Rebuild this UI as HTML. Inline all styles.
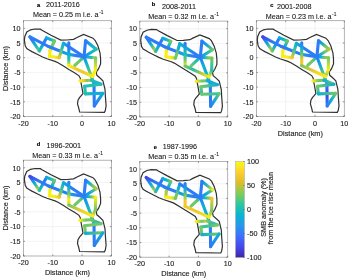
<!DOCTYPE html>
<html><head><meta charset="utf-8"><style>
html,body{margin:0;padding:0;background:#fff;}
svg{display:block;filter:blur(0.3px);}
.g{stroke:#ebebeb;stroke-width:0.6;}
.bx{fill:none;stroke:#9a9a9a;stroke-width:0.75;}
.tk{stroke:#555;stroke-width:0.6;}
.tl{font-family:"Liberation Sans",sans-serif;font-size:7.2px;fill:#262626;stroke:#262626;stroke-width:0.15px;}
.tt{font-family:"Liberation Sans",sans-serif;font-size:7.2px;fill:#111;stroke:#111;stroke-width:0.08px;}
.sup{font-size:4.8px;}
.bl{font-family:"Liberation Sans",sans-serif;font-size:5.7px;font-weight:bold;fill:#000;stroke:#000;stroke-width:0.2px;}
.al{font-family:"Liberation Sans",sans-serif;font-size:7.3px;fill:#262626;stroke:#262626;stroke-width:0.15px;}
.ol{fill:none;stroke:#303030;stroke-width:1.2;stroke-linejoin:miter;}
.tr line{stroke-width:3.1;stroke-linecap:round;}
.cbx{stroke:#aaa;stroke-width:0.5;}
</style></head>
<body><svg width="350" height="279" viewBox="0 0 350 279">
<g transform="translate(0.0,0.0)">
<line x1="52.80" y1="20.7" x2="52.80" y2="116.5" class="g"/>
<line x1="82.10" y1="20.7" x2="82.10" y2="116.5" class="g"/>
<line x1="23.5" y1="28.30" x2="111.4" y2="28.30" class="g"/>
<line x1="23.5" y1="43.00" x2="111.4" y2="43.00" class="g"/>
<line x1="23.5" y1="57.70" x2="111.4" y2="57.70" class="g"/>
<line x1="23.5" y1="72.40" x2="111.4" y2="72.40" class="g"/>
<line x1="23.5" y1="87.10" x2="111.4" y2="87.10" class="g"/>
<line x1="23.5" y1="101.80" x2="111.4" y2="101.80" class="g"/>
<rect x="23.5" y="20.7" width="87.90" height="95.80" class="bx"/>
<line x1="23.50" y1="116.5" x2="23.50" y2="115.0" class="tk"/>
<line x1="23.50" y1="20.7" x2="23.50" y2="22.2" class="tk"/>
<line x1="52.80" y1="116.5" x2="52.80" y2="115.0" class="tk"/>
<line x1="52.80" y1="20.7" x2="52.80" y2="22.2" class="tk"/>
<line x1="82.10" y1="116.5" x2="82.10" y2="115.0" class="tk"/>
<line x1="82.10" y1="20.7" x2="82.10" y2="22.2" class="tk"/>
<line x1="111.40" y1="116.5" x2="111.40" y2="115.0" class="tk"/>
<line x1="111.40" y1="20.7" x2="111.40" y2="22.2" class="tk"/>
<line x1="23.5" y1="28.30" x2="25.0" y2="28.30" class="tk"/>
<line x1="111.4" y1="28.30" x2="109.9" y2="28.30" class="tk"/>
<line x1="23.5" y1="43.00" x2="25.0" y2="43.00" class="tk"/>
<line x1="111.4" y1="43.00" x2="109.9" y2="43.00" class="tk"/>
<line x1="23.5" y1="57.70" x2="25.0" y2="57.70" class="tk"/>
<line x1="111.4" y1="57.70" x2="109.9" y2="57.70" class="tk"/>
<line x1="23.5" y1="72.40" x2="25.0" y2="72.40" class="tk"/>
<line x1="111.4" y1="72.40" x2="109.9" y2="72.40" class="tk"/>
<line x1="23.5" y1="87.10" x2="25.0" y2="87.10" class="tk"/>
<line x1="111.4" y1="87.10" x2="109.9" y2="87.10" class="tk"/>
<line x1="23.5" y1="101.80" x2="25.0" y2="101.80" class="tk"/>
<line x1="111.4" y1="101.80" x2="109.9" y2="101.80" class="tk"/>
<line x1="23.5" y1="116.50" x2="25.0" y2="116.50" class="tk"/>
<line x1="111.4" y1="116.50" x2="109.9" y2="116.50" class="tk"/>
<text x="20.60" y="31.00" class="tl" text-anchor="end">10</text>
<text x="20.60" y="45.70" class="tl" text-anchor="end">5</text>
<text x="20.60" y="60.40" class="tl" text-anchor="end">0</text>
<text x="20.60" y="75.10" class="tl" text-anchor="end">-5</text>
<text x="20.60" y="89.80" class="tl" text-anchor="end">-10</text>
<text x="20.60" y="104.50" class="tl" text-anchor="end">-15</text>
<text x="20.60" y="119.20" class="tl" text-anchor="end">-20</text>
<text x="23.50" y="125.80" class="tl" text-anchor="middle">-20</text>
<text x="52.80" y="125.80" class="tl" text-anchor="middle">-10</text>
<text x="82.10" y="125.80" class="tl" text-anchor="middle">0</text>
<text x="111.40" y="125.80" class="tl" text-anchor="middle">10</text>
</g>
<polygon transform="translate(0.0,0.0)" points="24.4,40.0 24.8,36.5 26.8,31.9 30.6,29.8 34.9,29.0 40.3,29.2 42.0,30.3 51.0,35.2 60.8,40.1 67.0,40.0 73.6,39.3 76.5,37.7 83.6,34.5 93.0,38.2 95.2,40.5 97.9,45.8 100.0,52.8 100.6,58.7 100.6,64.0 98.5,68.9 96.2,72.2 96.9,75.3 99.5,77.5 102.9,80.7 105.0,89.3 105.4,96.5 106.1,105.8 105.3,110.5 104.4,112.3 79.6,112.0 78.7,107.8 77.5,104.0 78.0,100.1 79.5,97.6 83.0,93.6 82.0,88.0 80.5,80.0 80.3,78.3 79.0,75.8 74.1,72.6 68.8,69.4 63.5,66.0 58.0,62.7 55.0,61.4 47.0,58.8 42.6,57.0 37.2,54.3 31.9,51.6 29.5,50.2 26.8,48.6 25.2,45.9" class="ol"/>
<defs>
<linearGradient id="ga0" gradientUnits="userSpaceOnUse" x1="84.0" y1="56.8" x2="74.8" y2="65.4">
<stop offset="0.00" stop-color="#0eaed6"/>
<stop offset="0.50" stop-color="#72c865"/>
<stop offset="1.00" stop-color="#72c865"/>
</linearGradient>
<linearGradient id="ga1" gradientUnits="userSpaceOnUse" x1="84.0" y1="56.8" x2="94.0" y2="83.5">
<stop offset="0.00" stop-color="#2c7bf7"/>
<stop offset="0.20" stop-color="#0eaed6"/>
<stop offset="0.40" stop-color="#24c0af"/>
<stop offset="0.60" stop-color="#72c865"/>
<stop offset="0.80" stop-color="#24c0af"/>
<stop offset="1.00" stop-color="#0eaed6"/>
</linearGradient>
<linearGradient id="ga2" gradientUnits="userSpaceOnUse" x1="96.2" y1="49.2" x2="84.0" y2="56.8">
<stop offset="0.00" stop-color="#24c0af"/>
<stop offset="0.50" stop-color="#0eaed6"/>
<stop offset="1.00" stop-color="#2c7bf7"/>
</linearGradient>
<linearGradient id="ga3" gradientUnits="userSpaceOnUse" x1="84.0" y1="56.8" x2="95.6" y2="57.7">
<stop offset="0.00" stop-color="#2c7bf7"/>
<stop offset="0.33" stop-color="#0eaed6"/>
<stop offset="0.67" stop-color="#24c0af"/>
<stop offset="1.00" stop-color="#faef12"/>
</linearGradient>
<linearGradient id="ga4" gradientUnits="userSpaceOnUse" x1="29.9" y1="36.8" x2="39.3" y2="51.0">
<stop offset="0.00" stop-color="#2c7bf7"/>
<stop offset="0.25" stop-color="#2c7bf7"/>
<stop offset="0.50" stop-color="#0eaed6"/>
<stop offset="0.75" stop-color="#24c0af"/>
<stop offset="1.00" stop-color="#b4c840"/>
</linearGradient>
<linearGradient id="ga5" gradientUnits="userSpaceOnUse" x1="39.3" y1="51.0" x2="46.5" y2="37.9">
<stop offset="0.00" stop-color="#24c0af"/>
<stop offset="0.33" stop-color="#0eaed6"/>
<stop offset="0.67" stop-color="#2c7bf7"/>
<stop offset="1.00" stop-color="#2c7bf7"/>
</linearGradient>
<linearGradient id="ga6" gradientUnits="userSpaceOnUse" x1="46.5" y1="37.9" x2="54.5" y2="41.0">
<stop offset="0.00" stop-color="#0eaed6"/>
<stop offset="0.33" stop-color="#0eaed6"/>
<stop offset="0.67" stop-color="#24c0af"/>
<stop offset="1.00" stop-color="#72c865"/>
</linearGradient>
<linearGradient id="ga7" gradientUnits="userSpaceOnUse" x1="54.5" y1="41.0" x2="50.0" y2="50.6">
<stop offset="0.00" stop-color="#72c865"/>
<stop offset="0.50" stop-color="#72c865"/>
<stop offset="1.00" stop-color="#f1c92d"/>
</linearGradient>
<linearGradient id="ga8" gradientUnits="userSpaceOnUse" x1="29.9" y1="36.8" x2="48.5" y2="46.5">
<stop offset="0.00" stop-color="#2c7bf7"/>
<stop offset="0.50" stop-color="#2c7bf7"/>
<stop offset="1.00" stop-color="#2c7bf7"/>
</linearGradient>
<linearGradient id="ga9" gradientUnits="userSpaceOnUse" x1="48.5" y1="46.5" x2="68.5" y2="54.4">
<stop offset="0.00" stop-color="#2c7bf7"/>
<stop offset="0.50" stop-color="#2c7bf7"/>
<stop offset="1.00" stop-color="#0eaed6"/>
</linearGradient>
<linearGradient id="ga10" gradientUnits="userSpaceOnUse" x1="68.5" y1="54.4" x2="84.0" y2="56.8">
<stop offset="0.00" stop-color="#0eaed6"/>
<stop offset="0.50" stop-color="#2c7bf7"/>
<stop offset="1.00" stop-color="#2c7bf7"/>
</linearGradient>
<linearGradient id="ga11" gradientUnits="userSpaceOnUse" x1="50.0" y1="50.6" x2="49.6" y2="56.3">
<stop offset="0.00" stop-color="#faef12"/>
<stop offset="1.00" stop-color="#faef12"/>
</linearGradient>
<linearGradient id="ga12" gradientUnits="userSpaceOnUse" x1="49.6" y1="56.3" x2="59.2" y2="57.7">
<stop offset="0.00" stop-color="#faef12"/>
<stop offset="0.50" stop-color="#faef12"/>
<stop offset="1.00" stop-color="#f1c92d"/>
</linearGradient>
<linearGradient id="ga13" gradientUnits="userSpaceOnUse" x1="59.2" y1="57.7" x2="63.5" y2="43.3">
<stop offset="0.00" stop-color="#f1c92d"/>
<stop offset="0.33" stop-color="#72c865"/>
<stop offset="0.67" stop-color="#24c0af"/>
<stop offset="1.00" stop-color="#0eaed6"/>
</linearGradient>
<linearGradient id="ga14" gradientUnits="userSpaceOnUse" x1="63.5" y1="43.3" x2="84.0" y2="56.8">
<stop offset="0.00" stop-color="#0eaed6"/>
<stop offset="0.33" stop-color="#2c7bf7"/>
<stop offset="0.67" stop-color="#2c7bf7"/>
<stop offset="1.00" stop-color="#2c7bf7"/>
</linearGradient>
<linearGradient id="ga15" gradientUnits="userSpaceOnUse" x1="68.8" y1="42.8" x2="68.8" y2="65.6">
<stop offset="0.00" stop-color="#2c7bf7"/>
<stop offset="0.25" stop-color="#2c7bf7"/>
<stop offset="0.50" stop-color="#0eaed6"/>
<stop offset="0.75" stop-color="#24c0af"/>
<stop offset="1.00" stop-color="#faef12"/>
</linearGradient>
<linearGradient id="ga16" gradientUnits="userSpaceOnUse" x1="85.6" y1="40.7" x2="96.2" y2="49.2">
<stop offset="0.00" stop-color="#2c7bf7"/>
<stop offset="0.50" stop-color="#0eaed6"/>
<stop offset="1.00" stop-color="#24c0af"/>
</linearGradient>
<linearGradient id="ga17" gradientUnits="userSpaceOnUse" x1="84.0" y1="56.8" x2="85.6" y2="40.7">
<stop offset="0.00" stop-color="#2c7bf7"/>
<stop offset="0.50" stop-color="#2c7bf7"/>
<stop offset="1.00" stop-color="#2c7bf7"/>
</linearGradient>
<linearGradient id="ga18" gradientUnits="userSpaceOnUse" x1="95.6" y1="57.7" x2="95.4" y2="70.0">
<stop offset="0.00" stop-color="#72c865"/>
<stop offset="1.00" stop-color="#faef12"/>
</linearGradient>
<linearGradient id="ga19" gradientUnits="userSpaceOnUse" x1="95.4" y1="70.0" x2="92.7" y2="76.5">
<stop offset="0.00" stop-color="#faef12"/>
<stop offset="1.00" stop-color="#faef12"/>
</linearGradient>
<linearGradient id="ga20" gradientUnits="userSpaceOnUse" x1="68.8" y1="65.6" x2="92.7" y2="76.5">
<stop offset="0.00" stop-color="#faef12"/>
<stop offset="0.33" stop-color="#f1c92d"/>
<stop offset="0.67" stop-color="#f1c92d"/>
<stop offset="1.00" stop-color="#faef12"/>
</linearGradient>
<linearGradient id="ga21" gradientUnits="userSpaceOnUse" x1="94.0" y1="83.5" x2="94.3" y2="105.9">
<stop offset="0.00" stop-color="#2c7bf7"/>
<stop offset="0.50" stop-color="#2c7bf7"/>
<stop offset="1.00" stop-color="#2c7bf7"/>
</linearGradient>
<linearGradient id="ga22" gradientUnits="userSpaceOnUse" x1="79.9" y1="80.9" x2="91.0" y2="80.3">
<stop offset="0.00" stop-color="#faef12"/>
<stop offset="0.33" stop-color="#f1c92d"/>
<stop offset="0.67" stop-color="#72c865"/>
<stop offset="1.00" stop-color="#f1c92d"/>
</linearGradient>
<linearGradient id="ga23" gradientUnits="userSpaceOnUse" x1="91.0" y1="80.3" x2="101.0" y2="84.2">
<stop offset="0.00" stop-color="#24c0af"/>
<stop offset="1.00" stop-color="#0eaed6"/>
</linearGradient>
<linearGradient id="ga24" gradientUnits="userSpaceOnUse" x1="101.0" y1="84.2" x2="84.6" y2="86.3">
<stop offset="0.00" stop-color="#24c0af"/>
<stop offset="1.00" stop-color="#24c0af"/>
</linearGradient>
<linearGradient id="ga25" gradientUnits="userSpaceOnUse" x1="84.6" y1="86.3" x2="85.5" y2="93.9">
<stop offset="0.00" stop-color="#24c0af"/>
<stop offset="1.00" stop-color="#24c0af"/>
</linearGradient>
<linearGradient id="ga26" gradientUnits="userSpaceOnUse" x1="85.5" y1="93.9" x2="102.8" y2="93.3">
<stop offset="0.00" stop-color="#24c0af"/>
<stop offset="0.50" stop-color="#0eaed6"/>
<stop offset="1.00" stop-color="#0eaed6"/>
</linearGradient>
<linearGradient id="ga27" gradientUnits="userSpaceOnUse" x1="102.8" y1="93.3" x2="94.3" y2="105.9">
<stop offset="0.00" stop-color="#0eaed6"/>
<stop offset="1.00" stop-color="#2c7bf7"/>
</linearGradient>
</defs>
<g transform="translate(0.0,0.0)" class="tr">
<line x1="84.0" y1="56.8" x2="74.8" y2="65.4" stroke="url(#ga0)"/>
<line x1="84.0" y1="56.8" x2="94.0" y2="83.5" stroke="url(#ga1)"/>
<line x1="96.2" y1="49.2" x2="84.0" y2="56.8" stroke="url(#ga2)"/>
<line x1="84.0" y1="56.8" x2="95.6" y2="57.7" stroke="url(#ga3)"/>
<line x1="29.9" y1="36.8" x2="39.3" y2="51.0" stroke="url(#ga4)"/>
<line x1="39.3" y1="51.0" x2="46.5" y2="37.9" stroke="url(#ga5)"/>
<line x1="46.5" y1="37.9" x2="54.5" y2="41.0" stroke="url(#ga6)"/>
<line x1="54.5" y1="41.0" x2="50.0" y2="50.6" stroke="url(#ga7)"/>
<line x1="29.9" y1="36.8" x2="48.5" y2="46.5" stroke="url(#ga8)"/>
<line x1="48.5" y1="46.5" x2="68.5" y2="54.4" stroke="url(#ga9)"/>
<line x1="68.5" y1="54.4" x2="84.0" y2="56.8" stroke="url(#ga10)"/>
<line x1="50.0" y1="50.6" x2="49.6" y2="56.3" stroke="url(#ga11)"/>
<line x1="49.6" y1="56.3" x2="59.2" y2="57.7" stroke="url(#ga12)"/>
<line x1="59.2" y1="57.7" x2="63.5" y2="43.3" stroke="url(#ga13)"/>
<line x1="63.5" y1="43.3" x2="84.0" y2="56.8" stroke="url(#ga14)"/>
<line x1="68.8" y1="42.8" x2="68.8" y2="65.6" stroke="url(#ga15)"/>
<line x1="85.6" y1="40.7" x2="96.2" y2="49.2" stroke="url(#ga16)"/>
<line x1="84.0" y1="56.8" x2="85.6" y2="40.7" stroke="url(#ga17)"/>
<line x1="95.6" y1="57.7" x2="95.4" y2="70.0" stroke="url(#ga18)"/>
<line x1="95.4" y1="70.0" x2="92.7" y2="76.5" stroke="url(#ga19)"/>
<line x1="68.8" y1="65.6" x2="92.7" y2="76.5" stroke="url(#ga20)"/>
<line x1="94.0" y1="83.5" x2="94.3" y2="105.9" stroke="url(#ga21)"/>
<line x1="79.9" y1="80.9" x2="91.0" y2="80.3" stroke="url(#ga22)"/>
<line x1="91.0" y1="80.3" x2="101.0" y2="84.2" stroke="url(#ga23)"/>
<line x1="101.0" y1="84.2" x2="84.6" y2="86.3" stroke="url(#ga24)"/>
<line x1="84.6" y1="86.3" x2="85.5" y2="93.9" stroke="url(#ga25)"/>
<line x1="85.5" y1="93.9" x2="102.8" y2="93.3" stroke="url(#ga26)"/>
<line x1="102.8" y1="93.3" x2="94.3" y2="105.9" stroke="url(#ga27)"/>
</g>
<text x="37.0" y="6.7" class="bl">a</text>
<text x="46.0" y="6.6" class="tt">2011-2016</text>
<text x="32.9" y="17.1" class="tt">Mean = 0.25 m i.e. a<tspan class="sup" dx="0.5" dy="-3.2">-1</tspan></text>
<text transform="translate(7.6,68.60) rotate(-90)" class="al" text-anchor="middle">Distance (km)</text>
<g transform="translate(116.3,0.4)">
<line x1="52.80" y1="20.7" x2="52.80" y2="116.5" class="g"/>
<line x1="82.10" y1="20.7" x2="82.10" y2="116.5" class="g"/>
<line x1="23.5" y1="28.30" x2="111.4" y2="28.30" class="g"/>
<line x1="23.5" y1="43.00" x2="111.4" y2="43.00" class="g"/>
<line x1="23.5" y1="57.70" x2="111.4" y2="57.70" class="g"/>
<line x1="23.5" y1="72.40" x2="111.4" y2="72.40" class="g"/>
<line x1="23.5" y1="87.10" x2="111.4" y2="87.10" class="g"/>
<line x1="23.5" y1="101.80" x2="111.4" y2="101.80" class="g"/>
<rect x="23.5" y="20.7" width="87.90" height="95.80" class="bx"/>
<line x1="23.50" y1="116.5" x2="23.50" y2="115.0" class="tk"/>
<line x1="23.50" y1="20.7" x2="23.50" y2="22.2" class="tk"/>
<line x1="52.80" y1="116.5" x2="52.80" y2="115.0" class="tk"/>
<line x1="52.80" y1="20.7" x2="52.80" y2="22.2" class="tk"/>
<line x1="82.10" y1="116.5" x2="82.10" y2="115.0" class="tk"/>
<line x1="82.10" y1="20.7" x2="82.10" y2="22.2" class="tk"/>
<line x1="111.40" y1="116.5" x2="111.40" y2="115.0" class="tk"/>
<line x1="111.40" y1="20.7" x2="111.40" y2="22.2" class="tk"/>
<line x1="23.5" y1="28.30" x2="25.0" y2="28.30" class="tk"/>
<line x1="111.4" y1="28.30" x2="109.9" y2="28.30" class="tk"/>
<line x1="23.5" y1="43.00" x2="25.0" y2="43.00" class="tk"/>
<line x1="111.4" y1="43.00" x2="109.9" y2="43.00" class="tk"/>
<line x1="23.5" y1="57.70" x2="25.0" y2="57.70" class="tk"/>
<line x1="111.4" y1="57.70" x2="109.9" y2="57.70" class="tk"/>
<line x1="23.5" y1="72.40" x2="25.0" y2="72.40" class="tk"/>
<line x1="111.4" y1="72.40" x2="109.9" y2="72.40" class="tk"/>
<line x1="23.5" y1="87.10" x2="25.0" y2="87.10" class="tk"/>
<line x1="111.4" y1="87.10" x2="109.9" y2="87.10" class="tk"/>
<line x1="23.5" y1="101.80" x2="25.0" y2="101.80" class="tk"/>
<line x1="111.4" y1="101.80" x2="109.9" y2="101.80" class="tk"/>
<line x1="23.5" y1="116.50" x2="25.0" y2="116.50" class="tk"/>
<line x1="111.4" y1="116.50" x2="109.9" y2="116.50" class="tk"/>
<text x="20.60" y="31.00" class="tl" text-anchor="end">10</text>
<text x="20.60" y="45.70" class="tl" text-anchor="end">5</text>
<text x="20.60" y="60.40" class="tl" text-anchor="end">0</text>
<text x="20.60" y="75.10" class="tl" text-anchor="end">-5</text>
<text x="20.60" y="89.80" class="tl" text-anchor="end">-10</text>
<text x="20.60" y="104.50" class="tl" text-anchor="end">-15</text>
<text x="20.60" y="119.20" class="tl" text-anchor="end">-20</text>
<text x="23.50" y="125.80" class="tl" text-anchor="middle">-20</text>
<text x="52.80" y="125.80" class="tl" text-anchor="middle">-10</text>
<text x="82.10" y="125.80" class="tl" text-anchor="middle">0</text>
<text x="111.40" y="125.80" class="tl" text-anchor="middle">10</text>
</g>
<polygon transform="translate(116.3,0.4)" points="24.4,40.0 24.8,36.5 26.8,31.9 30.6,29.8 34.9,29.0 40.3,29.2 42.0,30.3 51.0,35.2 60.8,40.1 67.0,40.0 73.6,39.3 76.5,37.7 83.6,34.5 93.0,38.2 95.2,40.5 97.9,45.8 100.0,52.8 100.6,58.7 100.6,64.0 98.5,68.9 96.2,72.2 96.9,75.3 99.5,77.5 102.9,80.7 105.0,89.3 105.4,96.5 106.1,105.8 105.3,110.5 104.4,112.3 79.6,112.0 78.7,107.8 77.5,104.0 78.0,100.1 79.5,97.6 83.0,93.6 82.0,88.0 80.5,80.0 80.3,78.3 79.0,75.8 74.1,72.6 68.8,69.4 63.5,66.0 58.0,62.7 55.0,61.4 47.0,58.8 42.6,57.0 37.2,54.3 31.9,51.6 29.5,50.2 26.8,48.6 25.2,45.9" class="ol"/>
<defs>
<linearGradient id="gb0" gradientUnits="userSpaceOnUse" x1="84.0" y1="56.8" x2="74.8" y2="65.4">
<stop offset="0.00" stop-color="#0eaed6"/>
<stop offset="0.50" stop-color="#24c0af"/>
<stop offset="1.00" stop-color="#72c865"/>
</linearGradient>
<linearGradient id="gb1" gradientUnits="userSpaceOnUse" x1="84.0" y1="56.8" x2="94.0" y2="83.5">
<stop offset="0.00" stop-color="#2c7bf7"/>
<stop offset="0.33" stop-color="#0eaed6"/>
<stop offset="0.67" stop-color="#0eaed6"/>
<stop offset="1.00" stop-color="#0eaed6"/>
</linearGradient>
<linearGradient id="gb2" gradientUnits="userSpaceOnUse" x1="96.2" y1="49.2" x2="84.0" y2="56.8">
<stop offset="0.00" stop-color="#72c865"/>
<stop offset="0.33" stop-color="#24c0af"/>
<stop offset="0.67" stop-color="#0eaed6"/>
<stop offset="1.00" stop-color="#2c7bf7"/>
</linearGradient>
<linearGradient id="gb3" gradientUnits="userSpaceOnUse" x1="84.0" y1="56.8" x2="95.6" y2="57.7">
<stop offset="0.00" stop-color="#2c7bf7"/>
<stop offset="0.33" stop-color="#0eaed6"/>
<stop offset="0.67" stop-color="#72c865"/>
<stop offset="1.00" stop-color="#b4c840"/>
</linearGradient>
<linearGradient id="gb4" gradientUnits="userSpaceOnUse" x1="29.9" y1="36.8" x2="39.3" y2="51.0">
<stop offset="0.00" stop-color="#2c7bf7"/>
<stop offset="0.25" stop-color="#2c7bf7"/>
<stop offset="0.50" stop-color="#0eaed6"/>
<stop offset="0.75" stop-color="#72c865"/>
<stop offset="1.00" stop-color="#f1c92d"/>
</linearGradient>
<linearGradient id="gb5" gradientUnits="userSpaceOnUse" x1="39.3" y1="51.0" x2="46.5" y2="37.9">
<stop offset="0.00" stop-color="#24c0af"/>
<stop offset="0.33" stop-color="#0eaed6"/>
<stop offset="0.67" stop-color="#2c7bf7"/>
<stop offset="1.00" stop-color="#2c7bf7"/>
</linearGradient>
<linearGradient id="gb6" gradientUnits="userSpaceOnUse" x1="46.5" y1="37.9" x2="54.5" y2="41.0">
<stop offset="0.00" stop-color="#0eaed6"/>
<stop offset="0.33" stop-color="#0eaed6"/>
<stop offset="0.67" stop-color="#24c0af"/>
<stop offset="1.00" stop-color="#72c865"/>
</linearGradient>
<linearGradient id="gb7" gradientUnits="userSpaceOnUse" x1="54.5" y1="41.0" x2="50.0" y2="50.6">
<stop offset="0.00" stop-color="#72c865"/>
<stop offset="0.50" stop-color="#0eaed6"/>
<stop offset="1.00" stop-color="#f1c92d"/>
</linearGradient>
<linearGradient id="gb8" gradientUnits="userSpaceOnUse" x1="29.9" y1="36.8" x2="48.5" y2="46.5">
<stop offset="0.00" stop-color="#2c7bf7"/>
<stop offset="0.50" stop-color="#2c7bf7"/>
<stop offset="1.00" stop-color="#2c7bf7"/>
</linearGradient>
<linearGradient id="gb9" gradientUnits="userSpaceOnUse" x1="48.5" y1="46.5" x2="68.5" y2="54.4">
<stop offset="0.00" stop-color="#2c7bf7"/>
<stop offset="0.50" stop-color="#2c7bf7"/>
<stop offset="1.00" stop-color="#0eaed6"/>
</linearGradient>
<linearGradient id="gb10" gradientUnits="userSpaceOnUse" x1="68.5" y1="54.4" x2="84.0" y2="56.8">
<stop offset="0.00" stop-color="#0eaed6"/>
<stop offset="0.50" stop-color="#2c7bf7"/>
<stop offset="1.00" stop-color="#2c7bf7"/>
</linearGradient>
<linearGradient id="gb11" gradientUnits="userSpaceOnUse" x1="50.0" y1="50.6" x2="49.6" y2="56.3">
<stop offset="0.00" stop-color="#faef12"/>
<stop offset="1.00" stop-color="#faef12"/>
</linearGradient>
<linearGradient id="gb12" gradientUnits="userSpaceOnUse" x1="49.6" y1="56.3" x2="59.2" y2="57.7">
<stop offset="0.00" stop-color="#faef12"/>
<stop offset="0.50" stop-color="#faef12"/>
<stop offset="1.00" stop-color="#b4c840"/>
</linearGradient>
<linearGradient id="gb13" gradientUnits="userSpaceOnUse" x1="59.2" y1="57.7" x2="63.5" y2="43.3">
<stop offset="0.00" stop-color="#72c865"/>
<stop offset="0.33" stop-color="#72c865"/>
<stop offset="0.67" stop-color="#0eaed6"/>
<stop offset="1.00" stop-color="#0eaed6"/>
</linearGradient>
<linearGradient id="gb14" gradientUnits="userSpaceOnUse" x1="63.5" y1="43.3" x2="84.0" y2="56.8">
<stop offset="0.00" stop-color="#0eaed6"/>
<stop offset="0.33" stop-color="#0eaed6"/>
<stop offset="0.67" stop-color="#2c7bf7"/>
<stop offset="1.00" stop-color="#2c7bf7"/>
</linearGradient>
<linearGradient id="gb15" gradientUnits="userSpaceOnUse" x1="68.8" y1="42.8" x2="68.8" y2="65.6">
<stop offset="0.00" stop-color="#2c7bf7"/>
<stop offset="0.25" stop-color="#0eaed6"/>
<stop offset="0.50" stop-color="#24c0af"/>
<stop offset="0.75" stop-color="#72c865"/>
<stop offset="1.00" stop-color="#faef12"/>
</linearGradient>
<linearGradient id="gb16" gradientUnits="userSpaceOnUse" x1="85.6" y1="40.7" x2="96.2" y2="49.2">
<stop offset="0.00" stop-color="#2c7bf7"/>
<stop offset="0.50" stop-color="#0eaed6"/>
<stop offset="1.00" stop-color="#72c865"/>
</linearGradient>
<linearGradient id="gb17" gradientUnits="userSpaceOnUse" x1="84.0" y1="56.8" x2="85.6" y2="40.7">
<stop offset="0.00" stop-color="#2c7bf7"/>
<stop offset="0.50" stop-color="#2c7bf7"/>
<stop offset="1.00" stop-color="#2c7bf7"/>
</linearGradient>
<linearGradient id="gb18" gradientUnits="userSpaceOnUse" x1="95.6" y1="57.7" x2="95.4" y2="70.0">
<stop offset="0.00" stop-color="#72c865"/>
<stop offset="1.00" stop-color="#24c0af"/>
</linearGradient>
<linearGradient id="gb19" gradientUnits="userSpaceOnUse" x1="95.4" y1="70.0" x2="92.7" y2="76.5">
<stop offset="0.00" stop-color="#24c0af"/>
<stop offset="1.00" stop-color="#faef12"/>
</linearGradient>
<linearGradient id="gb20" gradientUnits="userSpaceOnUse" x1="68.8" y1="65.6" x2="92.7" y2="76.5">
<stop offset="0.00" stop-color="#72c865"/>
<stop offset="0.33" stop-color="#24c0af"/>
<stop offset="0.67" stop-color="#b4c840"/>
<stop offset="1.00" stop-color="#faef12"/>
</linearGradient>
<linearGradient id="gb21" gradientUnits="userSpaceOnUse" x1="94.0" y1="83.5" x2="94.3" y2="105.9">
<stop offset="0.00" stop-color="#2c7bf7"/>
<stop offset="0.50" stop-color="#2c7bf7"/>
<stop offset="1.00" stop-color="#2c7bf7"/>
</linearGradient>
<linearGradient id="gb22" gradientUnits="userSpaceOnUse" x1="79.9" y1="80.9" x2="91.0" y2="80.3">
<stop offset="0.00" stop-color="#faef12"/>
<stop offset="0.50" stop-color="#72c865"/>
<stop offset="1.00" stop-color="#72c865"/>
</linearGradient>
<linearGradient id="gb23" gradientUnits="userSpaceOnUse" x1="91.0" y1="80.3" x2="101.0" y2="84.2">
<stop offset="0.00" stop-color="#0eaed6"/>
<stop offset="1.00" stop-color="#0eaed6"/>
</linearGradient>
<linearGradient id="gb24" gradientUnits="userSpaceOnUse" x1="101.0" y1="84.2" x2="84.6" y2="86.3">
<stop offset="0.00" stop-color="#0eaed6"/>
<stop offset="1.00" stop-color="#72c865"/>
</linearGradient>
<linearGradient id="gb25" gradientUnits="userSpaceOnUse" x1="84.6" y1="86.3" x2="85.5" y2="93.9">
<stop offset="0.00" stop-color="#72c865"/>
<stop offset="1.00" stop-color="#24c0af"/>
</linearGradient>
<linearGradient id="gb26" gradientUnits="userSpaceOnUse" x1="85.5" y1="93.9" x2="102.8" y2="93.3">
<stop offset="0.00" stop-color="#72c865"/>
<stop offset="1.00" stop-color="#24c0af"/>
</linearGradient>
<linearGradient id="gb27" gradientUnits="userSpaceOnUse" x1="102.8" y1="93.3" x2="94.3" y2="105.9">
<stop offset="0.00" stop-color="#72c865"/>
<stop offset="0.50" stop-color="#0eaed6"/>
<stop offset="1.00" stop-color="#2c7bf7"/>
</linearGradient>
</defs>
<g transform="translate(116.3,0.4)" class="tr">
<line x1="84.0" y1="56.8" x2="74.8" y2="65.4" stroke="url(#gb0)"/>
<line x1="84.0" y1="56.8" x2="94.0" y2="83.5" stroke="url(#gb1)"/>
<line x1="96.2" y1="49.2" x2="84.0" y2="56.8" stroke="url(#gb2)"/>
<line x1="84.0" y1="56.8" x2="95.6" y2="57.7" stroke="url(#gb3)"/>
<line x1="29.9" y1="36.8" x2="39.3" y2="51.0" stroke="url(#gb4)"/>
<line x1="39.3" y1="51.0" x2="46.5" y2="37.9" stroke="url(#gb5)"/>
<line x1="46.5" y1="37.9" x2="54.5" y2="41.0" stroke="url(#gb6)"/>
<line x1="54.5" y1="41.0" x2="50.0" y2="50.6" stroke="url(#gb7)"/>
<line x1="29.9" y1="36.8" x2="48.5" y2="46.5" stroke="url(#gb8)"/>
<line x1="48.5" y1="46.5" x2="68.5" y2="54.4" stroke="url(#gb9)"/>
<line x1="68.5" y1="54.4" x2="84.0" y2="56.8" stroke="url(#gb10)"/>
<line x1="50.0" y1="50.6" x2="49.6" y2="56.3" stroke="url(#gb11)"/>
<line x1="49.6" y1="56.3" x2="59.2" y2="57.7" stroke="url(#gb12)"/>
<line x1="59.2" y1="57.7" x2="63.5" y2="43.3" stroke="url(#gb13)"/>
<line x1="63.5" y1="43.3" x2="84.0" y2="56.8" stroke="url(#gb14)"/>
<line x1="68.8" y1="42.8" x2="68.8" y2="65.6" stroke="url(#gb15)"/>
<line x1="85.6" y1="40.7" x2="96.2" y2="49.2" stroke="url(#gb16)"/>
<line x1="84.0" y1="56.8" x2="85.6" y2="40.7" stroke="url(#gb17)"/>
<line x1="95.6" y1="57.7" x2="95.4" y2="70.0" stroke="url(#gb18)"/>
<line x1="95.4" y1="70.0" x2="92.7" y2="76.5" stroke="url(#gb19)"/>
<line x1="68.8" y1="65.6" x2="92.7" y2="76.5" stroke="url(#gb20)"/>
<line x1="94.0" y1="83.5" x2="94.3" y2="105.9" stroke="url(#gb21)"/>
<line x1="79.9" y1="80.9" x2="91.0" y2="80.3" stroke="url(#gb22)"/>
<line x1="91.0" y1="80.3" x2="101.0" y2="84.2" stroke="url(#gb23)"/>
<line x1="101.0" y1="84.2" x2="84.6" y2="86.3" stroke="url(#gb24)"/>
<line x1="84.6" y1="86.3" x2="85.5" y2="93.9" stroke="url(#gb25)"/>
<line x1="85.5" y1="93.9" x2="102.8" y2="93.3" stroke="url(#gb26)"/>
<line x1="102.8" y1="93.3" x2="94.3" y2="105.9" stroke="url(#gb27)"/>
</g>
<text x="151.8" y="6.1" class="bl">b</text>
<text x="162.1" y="8.9" class="tt">2008-2011</text>
<text x="148.3" y="18.8" class="tt">Mean = 0.32 m i.e. a<tspan class="sup" dx="0.5" dy="-3.2">-1</tspan></text>
<g transform="translate(232.9,0.0)">
<line x1="52.80" y1="20.7" x2="52.80" y2="116.5" class="g"/>
<line x1="82.10" y1="20.7" x2="82.10" y2="116.5" class="g"/>
<line x1="23.5" y1="28.30" x2="111.4" y2="28.30" class="g"/>
<line x1="23.5" y1="43.00" x2="111.4" y2="43.00" class="g"/>
<line x1="23.5" y1="57.70" x2="111.4" y2="57.70" class="g"/>
<line x1="23.5" y1="72.40" x2="111.4" y2="72.40" class="g"/>
<line x1="23.5" y1="87.10" x2="111.4" y2="87.10" class="g"/>
<line x1="23.5" y1="101.80" x2="111.4" y2="101.80" class="g"/>
<rect x="23.5" y="20.7" width="87.90" height="95.80" class="bx"/>
<line x1="23.50" y1="116.5" x2="23.50" y2="115.0" class="tk"/>
<line x1="23.50" y1="20.7" x2="23.50" y2="22.2" class="tk"/>
<line x1="52.80" y1="116.5" x2="52.80" y2="115.0" class="tk"/>
<line x1="52.80" y1="20.7" x2="52.80" y2="22.2" class="tk"/>
<line x1="82.10" y1="116.5" x2="82.10" y2="115.0" class="tk"/>
<line x1="82.10" y1="20.7" x2="82.10" y2="22.2" class="tk"/>
<line x1="111.40" y1="116.5" x2="111.40" y2="115.0" class="tk"/>
<line x1="111.40" y1="20.7" x2="111.40" y2="22.2" class="tk"/>
<line x1="23.5" y1="28.30" x2="25.0" y2="28.30" class="tk"/>
<line x1="111.4" y1="28.30" x2="109.9" y2="28.30" class="tk"/>
<line x1="23.5" y1="43.00" x2="25.0" y2="43.00" class="tk"/>
<line x1="111.4" y1="43.00" x2="109.9" y2="43.00" class="tk"/>
<line x1="23.5" y1="57.70" x2="25.0" y2="57.70" class="tk"/>
<line x1="111.4" y1="57.70" x2="109.9" y2="57.70" class="tk"/>
<line x1="23.5" y1="72.40" x2="25.0" y2="72.40" class="tk"/>
<line x1="111.4" y1="72.40" x2="109.9" y2="72.40" class="tk"/>
<line x1="23.5" y1="87.10" x2="25.0" y2="87.10" class="tk"/>
<line x1="111.4" y1="87.10" x2="109.9" y2="87.10" class="tk"/>
<line x1="23.5" y1="101.80" x2="25.0" y2="101.80" class="tk"/>
<line x1="111.4" y1="101.80" x2="109.9" y2="101.80" class="tk"/>
<line x1="23.5" y1="116.50" x2="25.0" y2="116.50" class="tk"/>
<line x1="111.4" y1="116.50" x2="109.9" y2="116.50" class="tk"/>
<text x="20.60" y="31.00" class="tl" text-anchor="end">10</text>
<text x="20.60" y="45.70" class="tl" text-anchor="end">5</text>
<text x="20.60" y="60.40" class="tl" text-anchor="end">0</text>
<text x="20.60" y="75.10" class="tl" text-anchor="end">-5</text>
<text x="20.60" y="89.80" class="tl" text-anchor="end">-10</text>
<text x="20.60" y="104.50" class="tl" text-anchor="end">-15</text>
<text x="20.60" y="119.20" class="tl" text-anchor="end">-20</text>
<text x="23.50" y="125.80" class="tl" text-anchor="middle">-20</text>
<text x="52.80" y="125.80" class="tl" text-anchor="middle">-10</text>
<text x="82.10" y="125.80" class="tl" text-anchor="middle">0</text>
<text x="111.40" y="125.80" class="tl" text-anchor="middle">10</text>
</g>
<polygon transform="translate(232.9,0.0)" points="24.4,40.0 24.8,36.5 26.8,31.9 30.6,29.8 34.9,29.0 40.3,29.2 42.0,30.3 51.0,35.2 60.8,40.1 67.0,40.0 73.6,39.3 76.5,37.7 83.6,34.5 93.0,38.2 95.2,40.5 97.9,45.8 100.0,52.8 100.6,58.7 100.6,64.0 98.5,68.9 96.2,72.2 96.9,75.3 99.5,77.5 102.9,80.7 105.0,89.3 105.4,96.5 106.1,105.8 105.3,110.5 104.4,112.3 79.6,112.0 78.7,107.8 77.5,104.0 78.0,100.1 79.5,97.6 83.0,93.6 82.0,88.0 80.5,80.0 80.3,78.3 79.0,75.8 74.1,72.6 68.8,69.4 63.5,66.0 58.0,62.7 55.0,61.4 47.0,58.8 42.6,57.0 37.2,54.3 31.9,51.6 29.5,50.2 26.8,48.6 25.2,45.9" class="ol"/>
<defs>
<linearGradient id="gc0" gradientUnits="userSpaceOnUse" x1="84.0" y1="56.8" x2="74.8" y2="65.4">
<stop offset="0.00" stop-color="#0eaed6"/>
<stop offset="0.50" stop-color="#72c865"/>
<stop offset="1.00" stop-color="#72c865"/>
</linearGradient>
<linearGradient id="gc1" gradientUnits="userSpaceOnUse" x1="84.0" y1="56.8" x2="94.0" y2="83.5">
<stop offset="0.00" stop-color="#2c7bf7"/>
<stop offset="0.33" stop-color="#0eaed6"/>
<stop offset="0.67" stop-color="#72c865"/>
<stop offset="1.00" stop-color="#24c0af"/>
</linearGradient>
<linearGradient id="gc2" gradientUnits="userSpaceOnUse" x1="96.2" y1="49.2" x2="84.0" y2="56.8">
<stop offset="0.00" stop-color="#b4c840"/>
<stop offset="0.33" stop-color="#72c865"/>
<stop offset="0.67" stop-color="#0eaed6"/>
<stop offset="1.00" stop-color="#2c7bf7"/>
</linearGradient>
<linearGradient id="gc3" gradientUnits="userSpaceOnUse" x1="84.0" y1="56.8" x2="95.6" y2="57.7">
<stop offset="0.00" stop-color="#2c7bf7"/>
<stop offset="0.33" stop-color="#0eaed6"/>
<stop offset="0.67" stop-color="#72c865"/>
<stop offset="1.00" stop-color="#b4c840"/>
</linearGradient>
<linearGradient id="gc4" gradientUnits="userSpaceOnUse" x1="29.9" y1="36.8" x2="39.3" y2="51.0">
<stop offset="0.00" stop-color="#4046e6"/>
<stop offset="0.25" stop-color="#2c7bf7"/>
<stop offset="0.50" stop-color="#0eaed6"/>
<stop offset="0.75" stop-color="#72c865"/>
<stop offset="1.00" stop-color="#f1c92d"/>
</linearGradient>
<linearGradient id="gc5" gradientUnits="userSpaceOnUse" x1="39.3" y1="51.0" x2="46.5" y2="37.9">
<stop offset="0.00" stop-color="#72c865"/>
<stop offset="0.33" stop-color="#0eaed6"/>
<stop offset="0.67" stop-color="#2c7bf7"/>
<stop offset="1.00" stop-color="#2c7bf7"/>
</linearGradient>
<linearGradient id="gc6" gradientUnits="userSpaceOnUse" x1="46.5" y1="37.9" x2="54.5" y2="41.0">
<stop offset="0.00" stop-color="#0eaed6"/>
<stop offset="0.33" stop-color="#0eaed6"/>
<stop offset="0.67" stop-color="#24c0af"/>
<stop offset="1.00" stop-color="#72c865"/>
</linearGradient>
<linearGradient id="gc7" gradientUnits="userSpaceOnUse" x1="54.5" y1="41.0" x2="50.0" y2="50.6">
<stop offset="0.00" stop-color="#72c865"/>
<stop offset="0.50" stop-color="#0eaed6"/>
<stop offset="1.00" stop-color="#faef12"/>
</linearGradient>
<linearGradient id="gc8" gradientUnits="userSpaceOnUse" x1="29.9" y1="36.8" x2="48.5" y2="46.5">
<stop offset="0.00" stop-color="#4046e6"/>
<stop offset="0.50" stop-color="#2c7bf7"/>
<stop offset="1.00" stop-color="#2c7bf7"/>
</linearGradient>
<linearGradient id="gc9" gradientUnits="userSpaceOnUse" x1="48.5" y1="46.5" x2="68.5" y2="54.4">
<stop offset="0.00" stop-color="#2c7bf7"/>
<stop offset="0.50" stop-color="#2c7bf7"/>
<stop offset="1.00" stop-color="#2c7bf7"/>
</linearGradient>
<linearGradient id="gc10" gradientUnits="userSpaceOnUse" x1="68.5" y1="54.4" x2="84.0" y2="56.8">
<stop offset="0.00" stop-color="#0eaed6"/>
<stop offset="0.50" stop-color="#2c7bf7"/>
<stop offset="1.00" stop-color="#2c7bf7"/>
</linearGradient>
<linearGradient id="gc11" gradientUnits="userSpaceOnUse" x1="50.0" y1="50.6" x2="49.6" y2="56.3">
<stop offset="0.00" stop-color="#faef12"/>
<stop offset="1.00" stop-color="#faef12"/>
</linearGradient>
<linearGradient id="gc12" gradientUnits="userSpaceOnUse" x1="49.6" y1="56.3" x2="59.2" y2="57.7">
<stop offset="0.00" stop-color="#faef12"/>
<stop offset="0.50" stop-color="#faef12"/>
<stop offset="1.00" stop-color="#f1c92d"/>
</linearGradient>
<linearGradient id="gc13" gradientUnits="userSpaceOnUse" x1="59.2" y1="57.7" x2="63.5" y2="43.3">
<stop offset="0.00" stop-color="#f1c92d"/>
<stop offset="0.33" stop-color="#72c865"/>
<stop offset="0.67" stop-color="#24c0af"/>
<stop offset="1.00" stop-color="#0eaed6"/>
</linearGradient>
<linearGradient id="gc14" gradientUnits="userSpaceOnUse" x1="63.5" y1="43.3" x2="84.0" y2="56.8">
<stop offset="0.00" stop-color="#0eaed6"/>
<stop offset="0.33" stop-color="#2c7bf7"/>
<stop offset="0.67" stop-color="#2c7bf7"/>
<stop offset="1.00" stop-color="#2c7bf7"/>
</linearGradient>
<linearGradient id="gc15" gradientUnits="userSpaceOnUse" x1="68.8" y1="42.8" x2="68.8" y2="65.6">
<stop offset="0.00" stop-color="#2c7bf7"/>
<stop offset="0.25" stop-color="#0eaed6"/>
<stop offset="0.50" stop-color="#72c865"/>
<stop offset="0.75" stop-color="#f1c92d"/>
<stop offset="1.00" stop-color="#f1c92d"/>
</linearGradient>
<linearGradient id="gc16" gradientUnits="userSpaceOnUse" x1="85.6" y1="40.7" x2="96.2" y2="49.2">
<stop offset="0.00" stop-color="#2c7bf7"/>
<stop offset="0.33" stop-color="#0eaed6"/>
<stop offset="0.67" stop-color="#72c865"/>
<stop offset="1.00" stop-color="#b4c840"/>
</linearGradient>
<linearGradient id="gc17" gradientUnits="userSpaceOnUse" x1="84.0" y1="56.8" x2="85.6" y2="40.7">
<stop offset="0.00" stop-color="#2c7bf7"/>
<stop offset="0.50" stop-color="#2c7bf7"/>
<stop offset="1.00" stop-color="#2c7bf7"/>
</linearGradient>
<linearGradient id="gc18" gradientUnits="userSpaceOnUse" x1="95.6" y1="57.7" x2="95.4" y2="70.0">
<stop offset="0.00" stop-color="#72c865"/>
<stop offset="1.00" stop-color="#faef12"/>
</linearGradient>
<linearGradient id="gc19" gradientUnits="userSpaceOnUse" x1="95.4" y1="70.0" x2="92.7" y2="76.5">
<stop offset="0.00" stop-color="#faef12"/>
<stop offset="1.00" stop-color="#72c865"/>
</linearGradient>
<linearGradient id="gc20" gradientUnits="userSpaceOnUse" x1="68.8" y1="65.6" x2="92.7" y2="76.5">
<stop offset="0.00" stop-color="#72c865"/>
<stop offset="0.50" stop-color="#f1c92d"/>
<stop offset="1.00" stop-color="#faef12"/>
</linearGradient>
<linearGradient id="gc21" gradientUnits="userSpaceOnUse" x1="94.0" y1="83.5" x2="94.3" y2="105.9">
<stop offset="0.00" stop-color="#2c7bf7"/>
<stop offset="0.50" stop-color="#4046e6"/>
<stop offset="1.00" stop-color="#2c7bf7"/>
</linearGradient>
<linearGradient id="gc22" gradientUnits="userSpaceOnUse" x1="79.9" y1="80.9" x2="91.0" y2="80.3">
<stop offset="0.00" stop-color="#faef12"/>
<stop offset="0.50" stop-color="#72c865"/>
<stop offset="1.00" stop-color="#72c865"/>
</linearGradient>
<linearGradient id="gc23" gradientUnits="userSpaceOnUse" x1="91.0" y1="80.3" x2="101.0" y2="84.2">
<stop offset="0.00" stop-color="#0eaed6"/>
<stop offset="1.00" stop-color="#72c865"/>
</linearGradient>
<linearGradient id="gc24" gradientUnits="userSpaceOnUse" x1="101.0" y1="84.2" x2="84.6" y2="86.3">
<stop offset="0.00" stop-color="#0eaed6"/>
<stop offset="1.00" stop-color="#72c865"/>
</linearGradient>
<linearGradient id="gc25" gradientUnits="userSpaceOnUse" x1="84.6" y1="86.3" x2="85.5" y2="93.9">
<stop offset="0.00" stop-color="#72c865"/>
<stop offset="1.00" stop-color="#24c0af"/>
</linearGradient>
<linearGradient id="gc26" gradientUnits="userSpaceOnUse" x1="85.5" y1="93.9" x2="102.8" y2="93.3">
<stop offset="0.00" stop-color="#0eaed6"/>
<stop offset="1.00" stop-color="#72c865"/>
</linearGradient>
<linearGradient id="gc27" gradientUnits="userSpaceOnUse" x1="102.8" y1="93.3" x2="94.3" y2="105.9">
<stop offset="0.00" stop-color="#72c865"/>
<stop offset="0.50" stop-color="#0eaed6"/>
<stop offset="1.00" stop-color="#2c7bf7"/>
</linearGradient>
</defs>
<g transform="translate(232.9,0.0)" class="tr">
<line x1="84.0" y1="56.8" x2="74.8" y2="65.4" stroke="url(#gc0)"/>
<line x1="84.0" y1="56.8" x2="94.0" y2="83.5" stroke="url(#gc1)"/>
<line x1="96.2" y1="49.2" x2="84.0" y2="56.8" stroke="url(#gc2)"/>
<line x1="84.0" y1="56.8" x2="95.6" y2="57.7" stroke="url(#gc3)"/>
<line x1="29.9" y1="36.8" x2="39.3" y2="51.0" stroke="url(#gc4)"/>
<line x1="39.3" y1="51.0" x2="46.5" y2="37.9" stroke="url(#gc5)"/>
<line x1="46.5" y1="37.9" x2="54.5" y2="41.0" stroke="url(#gc6)"/>
<line x1="54.5" y1="41.0" x2="50.0" y2="50.6" stroke="url(#gc7)"/>
<line x1="29.9" y1="36.8" x2="48.5" y2="46.5" stroke="url(#gc8)"/>
<line x1="48.5" y1="46.5" x2="68.5" y2="54.4" stroke="url(#gc9)"/>
<line x1="68.5" y1="54.4" x2="84.0" y2="56.8" stroke="url(#gc10)"/>
<line x1="50.0" y1="50.6" x2="49.6" y2="56.3" stroke="url(#gc11)"/>
<line x1="49.6" y1="56.3" x2="59.2" y2="57.7" stroke="url(#gc12)"/>
<line x1="59.2" y1="57.7" x2="63.5" y2="43.3" stroke="url(#gc13)"/>
<line x1="63.5" y1="43.3" x2="84.0" y2="56.8" stroke="url(#gc14)"/>
<line x1="68.8" y1="42.8" x2="68.8" y2="65.6" stroke="url(#gc15)"/>
<line x1="85.6" y1="40.7" x2="96.2" y2="49.2" stroke="url(#gc16)"/>
<line x1="84.0" y1="56.8" x2="85.6" y2="40.7" stroke="url(#gc17)"/>
<line x1="95.6" y1="57.7" x2="95.4" y2="70.0" stroke="url(#gc18)"/>
<line x1="95.4" y1="70.0" x2="92.7" y2="76.5" stroke="url(#gc19)"/>
<line x1="68.8" y1="65.6" x2="92.7" y2="76.5" stroke="url(#gc20)"/>
<line x1="94.0" y1="83.5" x2="94.3" y2="105.9" stroke="url(#gc21)"/>
<line x1="79.9" y1="80.9" x2="91.0" y2="80.3" stroke="url(#gc22)"/>
<line x1="91.0" y1="80.3" x2="101.0" y2="84.2" stroke="url(#gc23)"/>
<line x1="101.0" y1="84.2" x2="84.6" y2="86.3" stroke="url(#gc24)"/>
<line x1="84.6" y1="86.3" x2="85.5" y2="93.9" stroke="url(#gc25)"/>
<line x1="85.5" y1="93.9" x2="102.8" y2="93.3" stroke="url(#gc26)"/>
<line x1="102.8" y1="93.3" x2="94.3" y2="105.9" stroke="url(#gc27)"/>
</g>
<text x="270.2" y="6.7" class="bl">c</text>
<text x="277.1" y="8.6" class="tt">2001-2008</text>
<text x="265.8" y="18.8" class="tt">Mean = 0.23 m i.e. a<tspan class="sup" dx="0.5" dy="-3.2">-1</tspan></text>
<text x="300.35" y="135.70" class="al" text-anchor="middle">Distance (km)</text>
<g transform="translate(0.0,139.5)">
<line x1="52.80" y1="20.7" x2="52.80" y2="116.5" class="g"/>
<line x1="82.10" y1="20.7" x2="82.10" y2="116.5" class="g"/>
<line x1="23.5" y1="28.30" x2="111.4" y2="28.30" class="g"/>
<line x1="23.5" y1="43.00" x2="111.4" y2="43.00" class="g"/>
<line x1="23.5" y1="57.70" x2="111.4" y2="57.70" class="g"/>
<line x1="23.5" y1="72.40" x2="111.4" y2="72.40" class="g"/>
<line x1="23.5" y1="87.10" x2="111.4" y2="87.10" class="g"/>
<line x1="23.5" y1="101.80" x2="111.4" y2="101.80" class="g"/>
<rect x="23.5" y="20.7" width="87.90" height="95.80" class="bx"/>
<line x1="23.50" y1="116.5" x2="23.50" y2="115.0" class="tk"/>
<line x1="23.50" y1="20.7" x2="23.50" y2="22.2" class="tk"/>
<line x1="52.80" y1="116.5" x2="52.80" y2="115.0" class="tk"/>
<line x1="52.80" y1="20.7" x2="52.80" y2="22.2" class="tk"/>
<line x1="82.10" y1="116.5" x2="82.10" y2="115.0" class="tk"/>
<line x1="82.10" y1="20.7" x2="82.10" y2="22.2" class="tk"/>
<line x1="111.40" y1="116.5" x2="111.40" y2="115.0" class="tk"/>
<line x1="111.40" y1="20.7" x2="111.40" y2="22.2" class="tk"/>
<line x1="23.5" y1="28.30" x2="25.0" y2="28.30" class="tk"/>
<line x1="111.4" y1="28.30" x2="109.9" y2="28.30" class="tk"/>
<line x1="23.5" y1="43.00" x2="25.0" y2="43.00" class="tk"/>
<line x1="111.4" y1="43.00" x2="109.9" y2="43.00" class="tk"/>
<line x1="23.5" y1="57.70" x2="25.0" y2="57.70" class="tk"/>
<line x1="111.4" y1="57.70" x2="109.9" y2="57.70" class="tk"/>
<line x1="23.5" y1="72.40" x2="25.0" y2="72.40" class="tk"/>
<line x1="111.4" y1="72.40" x2="109.9" y2="72.40" class="tk"/>
<line x1="23.5" y1="87.10" x2="25.0" y2="87.10" class="tk"/>
<line x1="111.4" y1="87.10" x2="109.9" y2="87.10" class="tk"/>
<line x1="23.5" y1="101.80" x2="25.0" y2="101.80" class="tk"/>
<line x1="111.4" y1="101.80" x2="109.9" y2="101.80" class="tk"/>
<line x1="23.5" y1="116.50" x2="25.0" y2="116.50" class="tk"/>
<line x1="111.4" y1="116.50" x2="109.9" y2="116.50" class="tk"/>
<text x="20.60" y="31.00" class="tl" text-anchor="end">10</text>
<text x="20.60" y="45.70" class="tl" text-anchor="end">5</text>
<text x="20.60" y="60.40" class="tl" text-anchor="end">0</text>
<text x="20.60" y="75.10" class="tl" text-anchor="end">-5</text>
<text x="20.60" y="89.80" class="tl" text-anchor="end">-10</text>
<text x="20.60" y="104.50" class="tl" text-anchor="end">-15</text>
<text x="20.60" y="119.20" class="tl" text-anchor="end">-20</text>
<text x="23.50" y="125.80" class="tl" text-anchor="middle">-20</text>
<text x="52.80" y="125.80" class="tl" text-anchor="middle">-10</text>
<text x="82.10" y="125.80" class="tl" text-anchor="middle">0</text>
<text x="111.40" y="125.80" class="tl" text-anchor="middle">10</text>
</g>
<polygon transform="translate(0.0,139.5)" points="24.4,40.0 24.8,36.5 26.8,31.9 30.6,29.8 34.9,29.0 40.3,29.2 42.0,30.3 51.0,35.2 60.8,40.1 67.0,40.0 73.6,39.3 76.5,37.7 83.6,34.5 93.0,38.2 95.2,40.5 97.9,45.8 100.0,52.8 100.6,58.7 100.6,64.0 98.5,68.9 96.2,72.2 96.9,75.3 99.5,77.5 102.9,80.7 105.0,89.3 105.4,96.5 106.1,105.8 105.3,110.5 104.4,112.3 79.6,112.0 78.7,107.8 77.5,104.0 78.0,100.1 79.5,97.6 83.0,93.6 82.0,88.0 80.5,80.0 80.3,78.3 79.0,75.8 74.1,72.6 68.8,69.4 63.5,66.0 58.0,62.7 55.0,61.4 47.0,58.8 42.6,57.0 37.2,54.3 31.9,51.6 29.5,50.2 26.8,48.6 25.2,45.9" class="ol"/>
<defs>
<linearGradient id="gd0" gradientUnits="userSpaceOnUse" x1="84.0" y1="56.8" x2="74.8" y2="65.4">
<stop offset="0.00" stop-color="#0eaed6"/>
<stop offset="0.50" stop-color="#72c865"/>
<stop offset="1.00" stop-color="#72c865"/>
</linearGradient>
<linearGradient id="gd1" gradientUnits="userSpaceOnUse" x1="84.0" y1="56.8" x2="94.0" y2="83.5">
<stop offset="0.00" stop-color="#2c7bf7"/>
<stop offset="0.33" stop-color="#0eaed6"/>
<stop offset="0.67" stop-color="#24c0af"/>
<stop offset="1.00" stop-color="#0eaed6"/>
</linearGradient>
<linearGradient id="gd2" gradientUnits="userSpaceOnUse" x1="96.2" y1="49.2" x2="84.0" y2="56.8">
<stop offset="0.00" stop-color="#72c865"/>
<stop offset="0.50" stop-color="#0eaed6"/>
<stop offset="1.00" stop-color="#2c7bf7"/>
</linearGradient>
<linearGradient id="gd3" gradientUnits="userSpaceOnUse" x1="84.0" y1="56.8" x2="95.6" y2="57.7">
<stop offset="0.00" stop-color="#2c7bf7"/>
<stop offset="0.33" stop-color="#0eaed6"/>
<stop offset="0.67" stop-color="#72c865"/>
<stop offset="1.00" stop-color="#faef12"/>
</linearGradient>
<linearGradient id="gd4" gradientUnits="userSpaceOnUse" x1="29.9" y1="36.8" x2="39.3" y2="51.0">
<stop offset="0.00" stop-color="#4046e6"/>
<stop offset="0.25" stop-color="#2c7bf7"/>
<stop offset="0.50" stop-color="#0eaed6"/>
<stop offset="0.75" stop-color="#72c865"/>
<stop offset="1.00" stop-color="#f1c92d"/>
</linearGradient>
<linearGradient id="gd5" gradientUnits="userSpaceOnUse" x1="39.3" y1="51.0" x2="46.5" y2="37.9">
<stop offset="0.00" stop-color="#24c0af"/>
<stop offset="0.33" stop-color="#0eaed6"/>
<stop offset="0.67" stop-color="#2c7bf7"/>
<stop offset="1.00" stop-color="#2c7bf7"/>
</linearGradient>
<linearGradient id="gd6" gradientUnits="userSpaceOnUse" x1="46.5" y1="37.9" x2="54.5" y2="41.0">
<stop offset="0.00" stop-color="#0eaed6"/>
<stop offset="0.33" stop-color="#0eaed6"/>
<stop offset="0.67" stop-color="#24c0af"/>
<stop offset="1.00" stop-color="#72c865"/>
</linearGradient>
<linearGradient id="gd7" gradientUnits="userSpaceOnUse" x1="54.5" y1="41.0" x2="50.0" y2="50.6">
<stop offset="0.00" stop-color="#72c865"/>
<stop offset="0.50" stop-color="#0eaed6"/>
<stop offset="1.00" stop-color="#faef12"/>
</linearGradient>
<linearGradient id="gd8" gradientUnits="userSpaceOnUse" x1="29.9" y1="36.8" x2="48.5" y2="46.5">
<stop offset="0.00" stop-color="#4046e6"/>
<stop offset="0.50" stop-color="#2c7bf7"/>
<stop offset="1.00" stop-color="#2c7bf7"/>
</linearGradient>
<linearGradient id="gd9" gradientUnits="userSpaceOnUse" x1="48.5" y1="46.5" x2="68.5" y2="54.4">
<stop offset="0.00" stop-color="#2c7bf7"/>
<stop offset="0.50" stop-color="#2c7bf7"/>
<stop offset="1.00" stop-color="#2c7bf7"/>
</linearGradient>
<linearGradient id="gd10" gradientUnits="userSpaceOnUse" x1="68.5" y1="54.4" x2="84.0" y2="56.8">
<stop offset="0.00" stop-color="#0eaed6"/>
<stop offset="0.50" stop-color="#2c7bf7"/>
<stop offset="1.00" stop-color="#2c7bf7"/>
</linearGradient>
<linearGradient id="gd11" gradientUnits="userSpaceOnUse" x1="50.0" y1="50.6" x2="49.6" y2="56.3">
<stop offset="0.00" stop-color="#faef12"/>
<stop offset="1.00" stop-color="#faef12"/>
</linearGradient>
<linearGradient id="gd12" gradientUnits="userSpaceOnUse" x1="49.6" y1="56.3" x2="59.2" y2="57.7">
<stop offset="0.00" stop-color="#faef12"/>
<stop offset="0.50" stop-color="#faef12"/>
<stop offset="1.00" stop-color="#f1c92d"/>
</linearGradient>
<linearGradient id="gd13" gradientUnits="userSpaceOnUse" x1="59.2" y1="57.7" x2="63.5" y2="43.3">
<stop offset="0.00" stop-color="#f1c92d"/>
<stop offset="0.33" stop-color="#72c865"/>
<stop offset="0.67" stop-color="#24c0af"/>
<stop offset="1.00" stop-color="#0eaed6"/>
</linearGradient>
<linearGradient id="gd14" gradientUnits="userSpaceOnUse" x1="63.5" y1="43.3" x2="84.0" y2="56.8">
<stop offset="0.00" stop-color="#0eaed6"/>
<stop offset="0.33" stop-color="#2c7bf7"/>
<stop offset="0.67" stop-color="#2c7bf7"/>
<stop offset="1.00" stop-color="#2c7bf7"/>
</linearGradient>
<linearGradient id="gd15" gradientUnits="userSpaceOnUse" x1="68.8" y1="42.8" x2="68.8" y2="65.6">
<stop offset="0.00" stop-color="#2c7bf7"/>
<stop offset="0.25" stop-color="#0eaed6"/>
<stop offset="0.50" stop-color="#72c865"/>
<stop offset="0.75" stop-color="#faef12"/>
<stop offset="1.00" stop-color="#f1c92d"/>
</linearGradient>
<linearGradient id="gd16" gradientUnits="userSpaceOnUse" x1="85.6" y1="40.7" x2="96.2" y2="49.2">
<stop offset="0.00" stop-color="#2c7bf7"/>
<stop offset="0.33" stop-color="#0eaed6"/>
<stop offset="0.67" stop-color="#72c865"/>
<stop offset="1.00" stop-color="#b4c840"/>
</linearGradient>
<linearGradient id="gd17" gradientUnits="userSpaceOnUse" x1="84.0" y1="56.8" x2="85.6" y2="40.7">
<stop offset="0.00" stop-color="#2c7bf7"/>
<stop offset="0.50" stop-color="#2c7bf7"/>
<stop offset="1.00" stop-color="#2c7bf7"/>
</linearGradient>
<linearGradient id="gd18" gradientUnits="userSpaceOnUse" x1="95.6" y1="57.7" x2="95.4" y2="70.0">
<stop offset="0.00" stop-color="#faef12"/>
<stop offset="1.00" stop-color="#72c865"/>
</linearGradient>
<linearGradient id="gd19" gradientUnits="userSpaceOnUse" x1="95.4" y1="70.0" x2="92.7" y2="76.5">
<stop offset="0.00" stop-color="#72c865"/>
<stop offset="1.00" stop-color="#f1c92d"/>
</linearGradient>
<linearGradient id="gd20" gradientUnits="userSpaceOnUse" x1="68.8" y1="65.6" x2="92.7" y2="76.5">
<stop offset="0.00" stop-color="#72c865"/>
<stop offset="0.50" stop-color="#f1c92d"/>
<stop offset="1.00" stop-color="#faef12"/>
</linearGradient>
<linearGradient id="gd21" gradientUnits="userSpaceOnUse" x1="94.0" y1="83.5" x2="94.3" y2="105.9">
<stop offset="0.00" stop-color="#2c7bf7"/>
<stop offset="0.50" stop-color="#2c7bf7"/>
<stop offset="1.00" stop-color="#2c7bf7"/>
</linearGradient>
<linearGradient id="gd22" gradientUnits="userSpaceOnUse" x1="79.9" y1="80.9" x2="91.0" y2="80.3">
<stop offset="0.00" stop-color="#faef12"/>
<stop offset="0.50" stop-color="#72c865"/>
<stop offset="1.00" stop-color="#72c865"/>
</linearGradient>
<linearGradient id="gd23" gradientUnits="userSpaceOnUse" x1="91.0" y1="80.3" x2="101.0" y2="84.2">
<stop offset="0.00" stop-color="#72c865"/>
<stop offset="1.00" stop-color="#0eaed6"/>
</linearGradient>
<linearGradient id="gd24" gradientUnits="userSpaceOnUse" x1="101.0" y1="84.2" x2="84.6" y2="86.3">
<stop offset="0.00" stop-color="#72c865"/>
<stop offset="1.00" stop-color="#72c865"/>
</linearGradient>
<linearGradient id="gd25" gradientUnits="userSpaceOnUse" x1="84.6" y1="86.3" x2="85.5" y2="93.9">
<stop offset="0.00" stop-color="#72c865"/>
<stop offset="1.00" stop-color="#72c865"/>
</linearGradient>
<linearGradient id="gd26" gradientUnits="userSpaceOnUse" x1="85.5" y1="93.9" x2="102.8" y2="93.3">
<stop offset="0.00" stop-color="#0eaed6"/>
<stop offset="1.00" stop-color="#72c865"/>
</linearGradient>
<linearGradient id="gd27" gradientUnits="userSpaceOnUse" x1="102.8" y1="93.3" x2="94.3" y2="105.9">
<stop offset="0.00" stop-color="#0eaed6"/>
<stop offset="1.00" stop-color="#2c7bf7"/>
</linearGradient>
</defs>
<g transform="translate(0.0,139.5)" class="tr">
<line x1="84.0" y1="56.8" x2="74.8" y2="65.4" stroke="url(#gd0)"/>
<line x1="84.0" y1="56.8" x2="94.0" y2="83.5" stroke="url(#gd1)"/>
<line x1="96.2" y1="49.2" x2="84.0" y2="56.8" stroke="url(#gd2)"/>
<line x1="84.0" y1="56.8" x2="95.6" y2="57.7" stroke="url(#gd3)"/>
<line x1="29.9" y1="36.8" x2="39.3" y2="51.0" stroke="url(#gd4)"/>
<line x1="39.3" y1="51.0" x2="46.5" y2="37.9" stroke="url(#gd5)"/>
<line x1="46.5" y1="37.9" x2="54.5" y2="41.0" stroke="url(#gd6)"/>
<line x1="54.5" y1="41.0" x2="50.0" y2="50.6" stroke="url(#gd7)"/>
<line x1="29.9" y1="36.8" x2="48.5" y2="46.5" stroke="url(#gd8)"/>
<line x1="48.5" y1="46.5" x2="68.5" y2="54.4" stroke="url(#gd9)"/>
<line x1="68.5" y1="54.4" x2="84.0" y2="56.8" stroke="url(#gd10)"/>
<line x1="50.0" y1="50.6" x2="49.6" y2="56.3" stroke="url(#gd11)"/>
<line x1="49.6" y1="56.3" x2="59.2" y2="57.7" stroke="url(#gd12)"/>
<line x1="59.2" y1="57.7" x2="63.5" y2="43.3" stroke="url(#gd13)"/>
<line x1="63.5" y1="43.3" x2="84.0" y2="56.8" stroke="url(#gd14)"/>
<line x1="68.8" y1="42.8" x2="68.8" y2="65.6" stroke="url(#gd15)"/>
<line x1="85.6" y1="40.7" x2="96.2" y2="49.2" stroke="url(#gd16)"/>
<line x1="84.0" y1="56.8" x2="85.6" y2="40.7" stroke="url(#gd17)"/>
<line x1="95.6" y1="57.7" x2="95.4" y2="70.0" stroke="url(#gd18)"/>
<line x1="95.4" y1="70.0" x2="92.7" y2="76.5" stroke="url(#gd19)"/>
<line x1="68.8" y1="65.6" x2="92.7" y2="76.5" stroke="url(#gd20)"/>
<line x1="94.0" y1="83.5" x2="94.3" y2="105.9" stroke="url(#gd21)"/>
<line x1="79.9" y1="80.9" x2="91.0" y2="80.3" stroke="url(#gd22)"/>
<line x1="91.0" y1="80.3" x2="101.0" y2="84.2" stroke="url(#gd23)"/>
<line x1="101.0" y1="84.2" x2="84.6" y2="86.3" stroke="url(#gd24)"/>
<line x1="84.6" y1="86.3" x2="85.5" y2="93.9" stroke="url(#gd25)"/>
<line x1="85.5" y1="93.9" x2="102.8" y2="93.3" stroke="url(#gd26)"/>
<line x1="102.8" y1="93.3" x2="94.3" y2="105.9" stroke="url(#gd27)"/>
</g>
<text x="36.8" y="146.3" class="bl">d</text>
<text x="46.6" y="147.7" class="tt">1996-2001</text>
<text x="32.3" y="157.8" class="tt">Mean = 0.33 m i.e. a<tspan class="sup" dx="0.5" dy="-3.2">-1</tspan></text>
<text x="67.45" y="275.20" class="al" text-anchor="middle">Distance (km)</text>
<text transform="translate(7.6,208.10) rotate(-90)" class="al" text-anchor="middle">Distance (km)</text>
<g transform="translate(116.3,140.7)">
<line x1="52.80" y1="20.7" x2="52.80" y2="116.5" class="g"/>
<line x1="82.10" y1="20.7" x2="82.10" y2="116.5" class="g"/>
<line x1="23.5" y1="28.30" x2="111.4" y2="28.30" class="g"/>
<line x1="23.5" y1="43.00" x2="111.4" y2="43.00" class="g"/>
<line x1="23.5" y1="57.70" x2="111.4" y2="57.70" class="g"/>
<line x1="23.5" y1="72.40" x2="111.4" y2="72.40" class="g"/>
<line x1="23.5" y1="87.10" x2="111.4" y2="87.10" class="g"/>
<line x1="23.5" y1="101.80" x2="111.4" y2="101.80" class="g"/>
<rect x="23.5" y="20.7" width="87.90" height="95.80" class="bx"/>
<line x1="23.50" y1="116.5" x2="23.50" y2="115.0" class="tk"/>
<line x1="23.50" y1="20.7" x2="23.50" y2="22.2" class="tk"/>
<line x1="52.80" y1="116.5" x2="52.80" y2="115.0" class="tk"/>
<line x1="52.80" y1="20.7" x2="52.80" y2="22.2" class="tk"/>
<line x1="82.10" y1="116.5" x2="82.10" y2="115.0" class="tk"/>
<line x1="82.10" y1="20.7" x2="82.10" y2="22.2" class="tk"/>
<line x1="111.40" y1="116.5" x2="111.40" y2="115.0" class="tk"/>
<line x1="111.40" y1="20.7" x2="111.40" y2="22.2" class="tk"/>
<line x1="23.5" y1="28.30" x2="25.0" y2="28.30" class="tk"/>
<line x1="111.4" y1="28.30" x2="109.9" y2="28.30" class="tk"/>
<line x1="23.5" y1="43.00" x2="25.0" y2="43.00" class="tk"/>
<line x1="111.4" y1="43.00" x2="109.9" y2="43.00" class="tk"/>
<line x1="23.5" y1="57.70" x2="25.0" y2="57.70" class="tk"/>
<line x1="111.4" y1="57.70" x2="109.9" y2="57.70" class="tk"/>
<line x1="23.5" y1="72.40" x2="25.0" y2="72.40" class="tk"/>
<line x1="111.4" y1="72.40" x2="109.9" y2="72.40" class="tk"/>
<line x1="23.5" y1="87.10" x2="25.0" y2="87.10" class="tk"/>
<line x1="111.4" y1="87.10" x2="109.9" y2="87.10" class="tk"/>
<line x1="23.5" y1="101.80" x2="25.0" y2="101.80" class="tk"/>
<line x1="111.4" y1="101.80" x2="109.9" y2="101.80" class="tk"/>
<line x1="23.5" y1="116.50" x2="25.0" y2="116.50" class="tk"/>
<line x1="111.4" y1="116.50" x2="109.9" y2="116.50" class="tk"/>
<text x="20.60" y="31.00" class="tl" text-anchor="end">10</text>
<text x="20.60" y="45.70" class="tl" text-anchor="end">5</text>
<text x="20.60" y="60.40" class="tl" text-anchor="end">0</text>
<text x="20.60" y="75.10" class="tl" text-anchor="end">-5</text>
<text x="20.60" y="89.80" class="tl" text-anchor="end">-10</text>
<text x="20.60" y="104.50" class="tl" text-anchor="end">-15</text>
<text x="20.60" y="119.20" class="tl" text-anchor="end">-20</text>
<text x="23.50" y="125.80" class="tl" text-anchor="middle">-20</text>
<text x="52.80" y="125.80" class="tl" text-anchor="middle">-10</text>
<text x="82.10" y="125.80" class="tl" text-anchor="middle">0</text>
<text x="111.40" y="125.80" class="tl" text-anchor="middle">10</text>
</g>
<polygon transform="translate(116.3,140.7)" points="24.4,40.0 24.8,36.5 26.8,31.9 30.6,29.8 34.9,29.0 40.3,29.2 42.0,30.3 51.0,35.2 60.8,40.1 67.0,40.0 73.6,39.3 76.5,37.7 83.6,34.5 93.0,38.2 95.2,40.5 97.9,45.8 100.0,52.8 100.6,58.7 100.6,64.0 98.5,68.9 96.2,72.2 96.9,75.3 99.5,77.5 102.9,80.7 105.0,89.3 105.4,96.5 106.1,105.8 105.3,110.5 104.4,112.3 79.6,112.0 78.7,107.8 77.5,104.0 78.0,100.1 79.5,97.6 83.0,93.6 82.0,88.0 80.5,80.0 80.3,78.3 79.0,75.8 74.1,72.6 68.8,69.4 63.5,66.0 58.0,62.7 55.0,61.4 47.0,58.8 42.6,57.0 37.2,54.3 31.9,51.6 29.5,50.2 26.8,48.6 25.2,45.9" class="ol"/>
<defs>
<linearGradient id="ge0" gradientUnits="userSpaceOnUse" x1="84.0" y1="56.8" x2="74.8" y2="65.4">
<stop offset="0.00" stop-color="#0eaed6"/>
<stop offset="0.50" stop-color="#72c865"/>
<stop offset="1.00" stop-color="#72c865"/>
</linearGradient>
<linearGradient id="ge1" gradientUnits="userSpaceOnUse" x1="84.0" y1="56.8" x2="94.0" y2="83.5">
<stop offset="0.00" stop-color="#2c7bf7"/>
<stop offset="0.33" stop-color="#0eaed6"/>
<stop offset="0.67" stop-color="#0eaed6"/>
<stop offset="1.00" stop-color="#24c0af"/>
</linearGradient>
<linearGradient id="ge2" gradientUnits="userSpaceOnUse" x1="96.2" y1="49.2" x2="84.0" y2="56.8">
<stop offset="0.00" stop-color="#72c865"/>
<stop offset="0.50" stop-color="#0eaed6"/>
<stop offset="1.00" stop-color="#2c7bf7"/>
</linearGradient>
<linearGradient id="ge3" gradientUnits="userSpaceOnUse" x1="84.0" y1="56.8" x2="95.6" y2="57.7">
<stop offset="0.00" stop-color="#2c7bf7"/>
<stop offset="0.33" stop-color="#0eaed6"/>
<stop offset="0.67" stop-color="#72c865"/>
<stop offset="1.00" stop-color="#f1c92d"/>
</linearGradient>
<linearGradient id="ge4" gradientUnits="userSpaceOnUse" x1="29.9" y1="36.8" x2="39.3" y2="51.0">
<stop offset="0.00" stop-color="#4046e6"/>
<stop offset="0.25" stop-color="#2c7bf7"/>
<stop offset="0.50" stop-color="#0eaed6"/>
<stop offset="0.75" stop-color="#72c865"/>
<stop offset="1.00" stop-color="#f1c92d"/>
</linearGradient>
<linearGradient id="ge5" gradientUnits="userSpaceOnUse" x1="39.3" y1="51.0" x2="46.5" y2="37.9">
<stop offset="0.00" stop-color="#24c0af"/>
<stop offset="0.33" stop-color="#0eaed6"/>
<stop offset="0.67" stop-color="#2c7bf7"/>
<stop offset="1.00" stop-color="#2c7bf7"/>
</linearGradient>
<linearGradient id="ge6" gradientUnits="userSpaceOnUse" x1="46.5" y1="37.9" x2="54.5" y2="41.0">
<stop offset="0.00" stop-color="#0eaed6"/>
<stop offset="0.33" stop-color="#0eaed6"/>
<stop offset="0.67" stop-color="#24c0af"/>
<stop offset="1.00" stop-color="#72c865"/>
</linearGradient>
<linearGradient id="ge7" gradientUnits="userSpaceOnUse" x1="54.5" y1="41.0" x2="50.0" y2="50.6">
<stop offset="0.00" stop-color="#72c865"/>
<stop offset="0.50" stop-color="#0eaed6"/>
<stop offset="1.00" stop-color="#b4c840"/>
</linearGradient>
<linearGradient id="ge8" gradientUnits="userSpaceOnUse" x1="29.9" y1="36.8" x2="48.5" y2="46.5">
<stop offset="0.00" stop-color="#4046e6"/>
<stop offset="0.50" stop-color="#2c7bf7"/>
<stop offset="1.00" stop-color="#2c7bf7"/>
</linearGradient>
<linearGradient id="ge9" gradientUnits="userSpaceOnUse" x1="48.5" y1="46.5" x2="68.5" y2="54.4">
<stop offset="0.00" stop-color="#2c7bf7"/>
<stop offset="0.50" stop-color="#2c7bf7"/>
<stop offset="1.00" stop-color="#0eaed6"/>
</linearGradient>
<linearGradient id="ge10" gradientUnits="userSpaceOnUse" x1="68.5" y1="54.4" x2="84.0" y2="56.8">
<stop offset="0.00" stop-color="#0eaed6"/>
<stop offset="0.50" stop-color="#2c7bf7"/>
<stop offset="1.00" stop-color="#2c7bf7"/>
</linearGradient>
<linearGradient id="ge11" gradientUnits="userSpaceOnUse" x1="50.0" y1="50.6" x2="49.6" y2="56.3">
<stop offset="0.00" stop-color="#b4c840"/>
<stop offset="1.00" stop-color="#b4c840"/>
</linearGradient>
<linearGradient id="ge12" gradientUnits="userSpaceOnUse" x1="49.6" y1="56.3" x2="59.2" y2="57.7">
<stop offset="0.00" stop-color="#faef12"/>
<stop offset="0.50" stop-color="#faef12"/>
<stop offset="1.00" stop-color="#b4c840"/>
</linearGradient>
<linearGradient id="ge13" gradientUnits="userSpaceOnUse" x1="59.2" y1="57.7" x2="63.5" y2="43.3">
<stop offset="0.00" stop-color="#72c865"/>
<stop offset="0.33" stop-color="#72c865"/>
<stop offset="0.67" stop-color="#0eaed6"/>
<stop offset="1.00" stop-color="#0eaed6"/>
</linearGradient>
<linearGradient id="ge14" gradientUnits="userSpaceOnUse" x1="63.5" y1="43.3" x2="84.0" y2="56.8">
<stop offset="0.00" stop-color="#2c7bf7"/>
<stop offset="0.50" stop-color="#2c7bf7"/>
<stop offset="1.00" stop-color="#2c7bf7"/>
</linearGradient>
<linearGradient id="ge15" gradientUnits="userSpaceOnUse" x1="68.8" y1="42.8" x2="68.8" y2="65.6">
<stop offset="0.00" stop-color="#2c7bf7"/>
<stop offset="0.25" stop-color="#0eaed6"/>
<stop offset="0.50" stop-color="#72c865"/>
<stop offset="0.75" stop-color="#f1c92d"/>
<stop offset="1.00" stop-color="#f1c92d"/>
</linearGradient>
<linearGradient id="ge16" gradientUnits="userSpaceOnUse" x1="85.6" y1="40.7" x2="96.2" y2="49.2">
<stop offset="0.00" stop-color="#2c7bf7"/>
<stop offset="0.33" stop-color="#0eaed6"/>
<stop offset="0.67" stop-color="#72c865"/>
<stop offset="1.00" stop-color="#faef12"/>
</linearGradient>
<linearGradient id="ge17" gradientUnits="userSpaceOnUse" x1="84.0" y1="56.8" x2="85.6" y2="40.7">
<stop offset="0.00" stop-color="#2c7bf7"/>
<stop offset="0.50" stop-color="#2c7bf7"/>
<stop offset="1.00" stop-color="#2c7bf7"/>
</linearGradient>
<linearGradient id="ge18" gradientUnits="userSpaceOnUse" x1="95.6" y1="57.7" x2="95.4" y2="70.0">
<stop offset="0.00" stop-color="#f1c92d"/>
<stop offset="1.00" stop-color="#72c865"/>
</linearGradient>
<linearGradient id="ge19" gradientUnits="userSpaceOnUse" x1="95.4" y1="70.0" x2="92.7" y2="76.5">
<stop offset="0.00" stop-color="#72c865"/>
<stop offset="1.00" stop-color="#faef12"/>
</linearGradient>
<linearGradient id="ge20" gradientUnits="userSpaceOnUse" x1="68.8" y1="65.6" x2="92.7" y2="76.5">
<stop offset="0.00" stop-color="#f1c92d"/>
<stop offset="0.50" stop-color="#f1c92d"/>
<stop offset="1.00" stop-color="#faef12"/>
</linearGradient>
<linearGradient id="ge21" gradientUnits="userSpaceOnUse" x1="94.0" y1="83.5" x2="94.3" y2="105.9">
<stop offset="0.00" stop-color="#2c7bf7"/>
<stop offset="0.50" stop-color="#2c7bf7"/>
<stop offset="1.00" stop-color="#2c7bf7"/>
</linearGradient>
<linearGradient id="ge22" gradientUnits="userSpaceOnUse" x1="79.9" y1="80.9" x2="91.0" y2="80.3">
<stop offset="0.00" stop-color="#faef12"/>
<stop offset="0.50" stop-color="#72c865"/>
<stop offset="1.00" stop-color="#f1c92d"/>
</linearGradient>
<linearGradient id="ge23" gradientUnits="userSpaceOnUse" x1="91.0" y1="80.3" x2="101.0" y2="84.2">
<stop offset="0.00" stop-color="#72c865"/>
<stop offset="1.00" stop-color="#0eaed6"/>
</linearGradient>
<linearGradient id="ge24" gradientUnits="userSpaceOnUse" x1="101.0" y1="84.2" x2="84.6" y2="86.3">
<stop offset="0.00" stop-color="#72c865"/>
<stop offset="1.00" stop-color="#24c0af"/>
</linearGradient>
<linearGradient id="ge25" gradientUnits="userSpaceOnUse" x1="84.6" y1="86.3" x2="85.5" y2="93.9">
<stop offset="0.00" stop-color="#72c865"/>
<stop offset="1.00" stop-color="#72c865"/>
</linearGradient>
<linearGradient id="ge26" gradientUnits="userSpaceOnUse" x1="85.5" y1="93.9" x2="102.8" y2="93.3">
<stop offset="0.00" stop-color="#0eaed6"/>
<stop offset="1.00" stop-color="#72c865"/>
</linearGradient>
<linearGradient id="ge27" gradientUnits="userSpaceOnUse" x1="102.8" y1="93.3" x2="94.3" y2="105.9">
<stop offset="0.00" stop-color="#0eaed6"/>
<stop offset="1.00" stop-color="#2c7bf7"/>
</linearGradient>
</defs>
<g transform="translate(116.3,140.7)" class="tr">
<line x1="84.0" y1="56.8" x2="74.8" y2="65.4" stroke="url(#ge0)"/>
<line x1="84.0" y1="56.8" x2="94.0" y2="83.5" stroke="url(#ge1)"/>
<line x1="96.2" y1="49.2" x2="84.0" y2="56.8" stroke="url(#ge2)"/>
<line x1="84.0" y1="56.8" x2="95.6" y2="57.7" stroke="url(#ge3)"/>
<line x1="29.9" y1="36.8" x2="39.3" y2="51.0" stroke="url(#ge4)"/>
<line x1="39.3" y1="51.0" x2="46.5" y2="37.9" stroke="url(#ge5)"/>
<line x1="46.5" y1="37.9" x2="54.5" y2="41.0" stroke="url(#ge6)"/>
<line x1="54.5" y1="41.0" x2="50.0" y2="50.6" stroke="url(#ge7)"/>
<line x1="29.9" y1="36.8" x2="48.5" y2="46.5" stroke="url(#ge8)"/>
<line x1="48.5" y1="46.5" x2="68.5" y2="54.4" stroke="url(#ge9)"/>
<line x1="68.5" y1="54.4" x2="84.0" y2="56.8" stroke="url(#ge10)"/>
<line x1="50.0" y1="50.6" x2="49.6" y2="56.3" stroke="url(#ge11)"/>
<line x1="49.6" y1="56.3" x2="59.2" y2="57.7" stroke="url(#ge12)"/>
<line x1="59.2" y1="57.7" x2="63.5" y2="43.3" stroke="url(#ge13)"/>
<line x1="63.5" y1="43.3" x2="84.0" y2="56.8" stroke="url(#ge14)"/>
<line x1="68.8" y1="42.8" x2="68.8" y2="65.6" stroke="url(#ge15)"/>
<line x1="85.6" y1="40.7" x2="96.2" y2="49.2" stroke="url(#ge16)"/>
<line x1="84.0" y1="56.8" x2="85.6" y2="40.7" stroke="url(#ge17)"/>
<line x1="95.6" y1="57.7" x2="95.4" y2="70.0" stroke="url(#ge18)"/>
<line x1="95.4" y1="70.0" x2="92.7" y2="76.5" stroke="url(#ge19)"/>
<line x1="68.8" y1="65.6" x2="92.7" y2="76.5" stroke="url(#ge20)"/>
<line x1="94.0" y1="83.5" x2="94.3" y2="105.9" stroke="url(#ge21)"/>
<line x1="79.9" y1="80.9" x2="91.0" y2="80.3" stroke="url(#ge22)"/>
<line x1="91.0" y1="80.3" x2="101.0" y2="84.2" stroke="url(#ge23)"/>
<line x1="101.0" y1="84.2" x2="84.6" y2="86.3" stroke="url(#ge24)"/>
<line x1="84.6" y1="86.3" x2="85.5" y2="93.9" stroke="url(#ge25)"/>
<line x1="85.5" y1="93.9" x2="102.8" y2="93.3" stroke="url(#ge26)"/>
<line x1="102.8" y1="93.3" x2="94.3" y2="105.9" stroke="url(#ge27)"/>
</g>
<text x="153.8" y="149.4" class="bl">e</text>
<text x="162.7" y="149.1" class="tt">1987-1996</text>
<text x="148.3" y="159.3" class="tt">Mean = 0.35 m i.e. a<tspan class="sup" dx="0.5" dy="-3.2">-1</tspan></text>
<text x="183.75" y="276.40" class="al" text-anchor="middle">Distance (km)</text>
<defs><linearGradient id="cb" x1="0" y1="1" x2="0" y2="0">
<stop offset="0.000" stop-color="#3e26a8"/>
<stop offset="0.111" stop-color="#4747eb"/>
<stop offset="0.222" stop-color="#3e6fff"/>
<stop offset="0.333" stop-color="#2797eb"/>
<stop offset="0.444" stop-color="#08b5d0"/>
<stop offset="0.556" stop-color="#31c69f"/>
<stop offset="0.667" stop-color="#81cc59"/>
<stop offset="0.778" stop-color="#dcbd29"/>
<stop offset="0.889" stop-color="#fccf30"/>
<stop offset="1.000" stop-color="#f9fb15"/>
</linearGradient></defs>
<rect x="235.5" y="161.5" width="9.0" height="96.0" fill="url(#cb)" class="cbx"/>
<line x1="244.5" y1="161.50" x2="243.3" y2="161.50" class="tk"/>
<text x="247.10" y="164.00" class="tl">100</text>
<line x1="244.5" y1="185.50" x2="243.3" y2="185.50" class="tk"/>
<text x="247.10" y="188.00" class="tl">50</text>
<line x1="244.5" y1="209.50" x2="243.3" y2="209.50" class="tk"/>
<text x="247.10" y="212.00" class="tl">0</text>
<line x1="244.5" y1="233.50" x2="243.3" y2="233.50" class="tk"/>
<text x="247.10" y="236.00" class="tl">-50</text>
<line x1="244.5" y1="257.50" x2="243.3" y2="257.50" class="tk"/>
<text x="247.10" y="260.00" class="tl">-100</text>
<text transform="translate(265.5,207.4) rotate(-90)" class="al" text-anchor="middle">SMB anomaly (%)</text>
<text transform="translate(273.2,208.1) rotate(-90)" class="al" text-anchor="middle">from the ice rise mean</text>
</svg></body></html>
